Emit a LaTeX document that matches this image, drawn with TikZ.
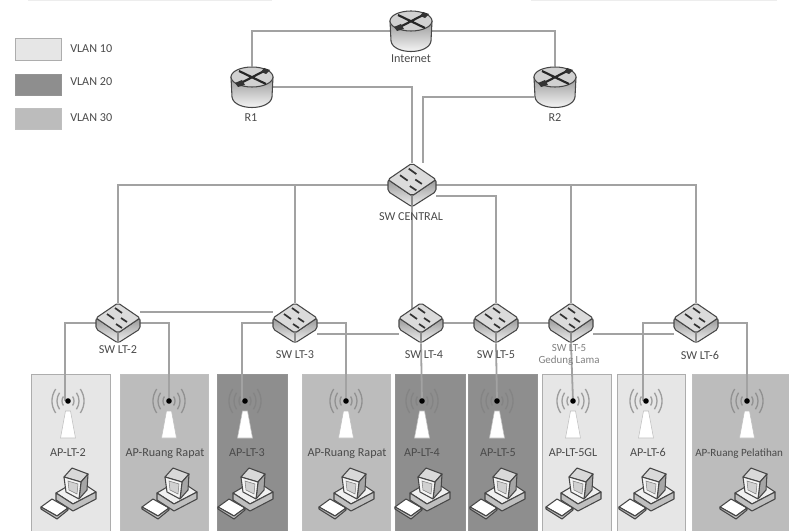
\documentclass[tikz,border=0pt]{standalone}
\usepackage{fontspec}
\setmainfont{Carlito}
\definecolor{vlanA}{HTML}{E6E6E6}
\definecolor{vlanB}{HTML}{8E8E8E}
\definecolor{vlanC}{HTML}{BCBCBC}
\definecolor{wire}{HTML}{A2A2A2}
\definecolor{ink}{HTML}{4A4A4A}
\tikzset{
  portbox/.style={inner sep=0pt,minimum width=33pt,minimum height=30pt},
  routerbox/.style={inner sep=0pt,minimum width=31.5pt,minimum height=31pt},
  wirel/.style={draw=wire,line width=1.35pt},
  lab/.style={inner sep=0pt,text=ink,font=\fontsize{9.1}{9}\selectfont},
  aplab/.style={lab,anchor=base},
  panelA/.style={fill=vlanA,draw=black!32,line width=0.7pt},
  panelB/.style={fill=vlanB,draw=black!42,line width=0.7pt},
  panelC/.style={fill=vlanC,draw=black!25,line width=0.7pt},
  icon/.style={draw=black!72,line width=0.8pt,line join=round},
  pics/switchicon/.style={code={
    \path[icon,rounded corners=1.5pt,top color=black!40,bottom color=black!5]
      (-22,-5) -- (-22,6) -- (0,20) -- (22,6) -- (22,-5) -- (0,10) -- cycle;
    \draw[icon,black!45] (0,10) -- (0,20);
    \path[icon,rounded corners=1.5pt,fill=black!14] (0,-20) -- (22,-5) -- (0,10) -- (-22,-5) -- cycle;
    \draw[black!80,line width=1.3pt]
      (-3,-15) -- (4,-10) (-11,-9) -- (-4,-4)
      (3,-5) -- (9,-1) (-2,1) -- (4,5);
  }},
  pics/routericon/.style={code={
    \path[icon,top color=black!40,bottom color=white]
      (-21,-10) -- (-20,10) .. controls (-18,24) and (18,24) .. (20,10) -- (21,-10) -- cycle;
    \path[icon,fill=black!18] (0,-10) ellipse [x radius=21,y radius=10];
    \draw[black!85,line width=1.6pt]
      (-13,-16) -- (14,-3) (14,-17) -- (-13,-3);
    \fill[black!80] (-17,-4) -- (-10,-7) -- (-7,-2) -- (-14,0) -- cycle;
    \fill[black!80] (12,-19) -- (18,-17) -- (14,-13) -- (9,-15) -- cycle;
  }},
  pics/apicon/.style={code={
    \foreach \r in {6,11,16}{
      \draw[black!50,opacity=.7,line width=1pt]
        ({\r*.77},{-\r*.75}) .. controls ({\r*1.08},{-\r*.27}) and ({\r*1.08},{\r*.27}) .. ({\r*.77},{\r*.75});
      \draw[black!50,opacity=.7,line width=1pt]
        ({-\r*.77},{-\r*.75}) .. controls ({-\r*1.08},{-\r*.27}) and ({-\r*1.08},{\r*.27}) .. ({-\r*.77},{\r*.75});
    }
    \path[fill=white,draw=black!25,line width=0.4pt] (-2.5,10) -- (2.5,10) -- (7.5,37) -- (-7.5,37) -- cycle;
    \fill[black] (0,0) circle [radius=2.8];
  }},
  pics/pcicon/.style={code={
    \path[icon,fill=white] (-27,12) -- (-16,4) -- (0,13) -- (-11,21) -- cycle;
    \path[icon,fill=black!25] (-27,12) -- (-11,21) -- (0,13) -- (0,15) -- (-11,24) -- (-27,14) -- cycle;
    \path[icon,fill=black!6] (-12,-2) -- (10,-15) -- (28,-3) -- (5,9) -- cycle;
    \path[icon,fill=black!25] (-12,-2) -- (5,9) -- (28,-3) -- (28,4) -- (5,16) -- (-12,5) -- cycle;
    \path[icon,fill=black!15] (-4,-18) -- (4,-27) -- (20,-21) -- (13,-13) -- cycle;
    \path[icon,fill=black!35] (13,-13) -- (20,-21) -- (19,-5) -- (11,4) -- cycle;
    \path[icon,fill=black!4] (-4,-18) -- (13,-13) -- (11,4) -- (-2,-3) -- cycle;
    \path[draw=black!50,fill=black!18,line width=0.4pt] (0,-14) -- (10,-11) -- (9,-1) -- (1,-5) -- cycle;
  }}
}
\newcommand{\panelbox}[3]{\path[#3] (#1,374) rectangle (#2,540);}
\begin{document}
\begin{tikzpicture}[x=0.75pt,y=-0.75pt]
\useasboundingbox (0,0) rectangle (789,531);
\clip (0,0) rectangle (789,531);
\fill[black!7] (28,0) rectangle (272,1.5);
\fill[black!7] (531,0) rectangle (777,1.5);
% panels
\panelbox{31}{110}{panelA}
\panelbox{120}{208}{panelC}
\panelbox{217}{287}{panelB}
\panelbox{302}{390}{panelC}
\panelbox{395}{465}{panelB}
\panelbox{468}{537}{panelB}
\panelbox{542}{611}{panelA}
\panelbox{617}{685}{panelA}
\panelbox{692}{800}{panelC}
% legend
\path[panelA] (15,38) rectangle (61,60);
\path[panelB] (15,74) rectangle (61,95);
\path[panelC] (15,108) rectangle (61,129);
\node[lab,anchor=west] (lg1) at (70,49) {VLAN 10};
\node[lab,anchor=west] (lg2) at (70,82) {VLAN 20};
\node[lab,anchor=west] (lg3) at (70,118) {VLAN 30};
% anchors of devices
\node[routerbox] (inet) at (411,31) {};
\node[routerbox] (r1) at (252,87) {};
\node[routerbox] (r2) at (555,87) {};
\node[portbox,minimum width=36pt,minimum height=33pt] (sc) at (412,185) {};
\node[portbox] (s2) at (118,323) {};
\node[portbox] (s3) at (295,323) {};
\node[portbox] (s4) at (421,323) {};
\node[portbox] (s5) at (496,323) {};
\node[portbox] (s5g) at (571,323) {};
\node[portbox] (s6) at (696,323) {};
\coordinate (a1) at (65,401);
\coordinate (a2) at (169,401);
\coordinate (a3) at (242,401);
\coordinate (a4) at (346,401);
\coordinate (a5) at (422,401);
\coordinate (a6) at (497,401);
\coordinate (a7) at (573,401);
\coordinate (a8) at (643,401);
\coordinate (a9) at (747,401);
% connectors
\draw[wirel] (inet.west) -| (r1.north);
\draw[wirel] (inet.east) -| (r2.north);
\draw[wirel] (r1.east) -| (sc.north);
\draw[wirel] ([yshift=-7.5pt]r2.west) -| ([xshift=8.25pt]sc.north);
\draw[wirel] (sc.west) -| (s2.north);
\draw[wirel] (sc.west) -| (s3.north);
\draw[wirel] (sc.east) -| (s6.north);
\draw[wirel] (sc.east) -| (s5g.north);
\draw[wirel] ([yshift=-8.25pt]sc.east) -| (s5.north);
\draw[wirel] (sc.south) -- ([xshift=-6.75pt,yshift=-6pt]s4.north);
\draw[wirel] ([yshift=8.25pt]s2.east) -- ([yshift=8.25pt]s3.west);
\draw[wirel] ([yshift=-8.25pt]s3.east) -- ([yshift=-8.25pt]s4.west);
\draw[wirel] (s4.east) -- (s5.west);
\draw[wirel] (s5.east) -- (s5g.west);
\draw[wirel] ([yshift=-8.25pt]s5g.east) -- ([yshift=-8.25pt]s6.west);
\draw[wirel] (s2.west) -| (a1);
\draw[wirel] (s2.east) -| (a2);
\draw[wirel] (s3.west) -| (a3);
\draw[wirel] (s3.east) -| (a4);
\draw[wirel] (s4.south) -- (a5);
\draw[wirel] (s5.south) -- (a6);
\draw[wirel] (s5g.south) -- (a7);
\draw[wirel] (s6.west) -| (a8);
\draw[wirel] (s6.east) -| (a9);
% icons
\pic at (inet) {routericon};
\pic at (r1) {routericon};
\pic at (r2) {routericon};
\pic[scale=1.09] at (sc) {switchicon};
\foreach \n in {s2,s3,s4,s5,s5g,s6}{\pic at (\n) {switchicon};}
\foreach \n/\px in {a1/68,a2/169,a3/245,a4/346,a5/422,a6/497,a7/573,a8/646,a9/747}{
  \pic at (\px,401) {apicon};
  \pic at (\px,495) {pcicon};
}
% labels
\node[lab] (li) at (411,59) {Internet};
\node[lab] (l1) at (251,118) {R1};
\node[lab] (l2) at (555,118) {R2};
\node[lab] (lc) at (411,217) {SW CENTRAL};
\node[lab] (ls2) at (118,350) {SW LT-2};
\node[lab] (ls3) at (295,355) {SW LT-3};
\node[lab] (ls4) at (424,355) {SW LT-4};
\node[lab] (ls5) at (496,355) {SW LT-5};
\node[lab,font=\fontsize{8.2}{9}\selectfont,text=black!50,align=center] (ls5g) at (569,355) {SW LT-5\\Gedung Lama};
\node[lab] (ls6) at (700,355) {SW LT-6};
\node[aplab] (p1) at (68,456) {AP-LT-2};
\node[aplab] (p2) at (165,456) {AP-Ruang Rapat};
\node[aplab] (p3) at (247,456) {AP-LT-3};
\node[aplab] (p4) at (347,456) {AP-Ruang Rapat};
\node[aplab] (p5) at (422,456) {AP-LT-4};
\node[aplab] (p6) at (498,456) {AP-LT-5};
\node[aplab] (p7) at (573,456) {AP-LT-5GL};
\node[aplab] (p8) at (648,456) {AP-LT-6};
\node[aplab,anchor=base west,font=\fontsize{8.3}{9}\selectfont] (p9) at (695,456) {AP-Ruang Pelatihan};
\end{tikzpicture}
\end{document}
